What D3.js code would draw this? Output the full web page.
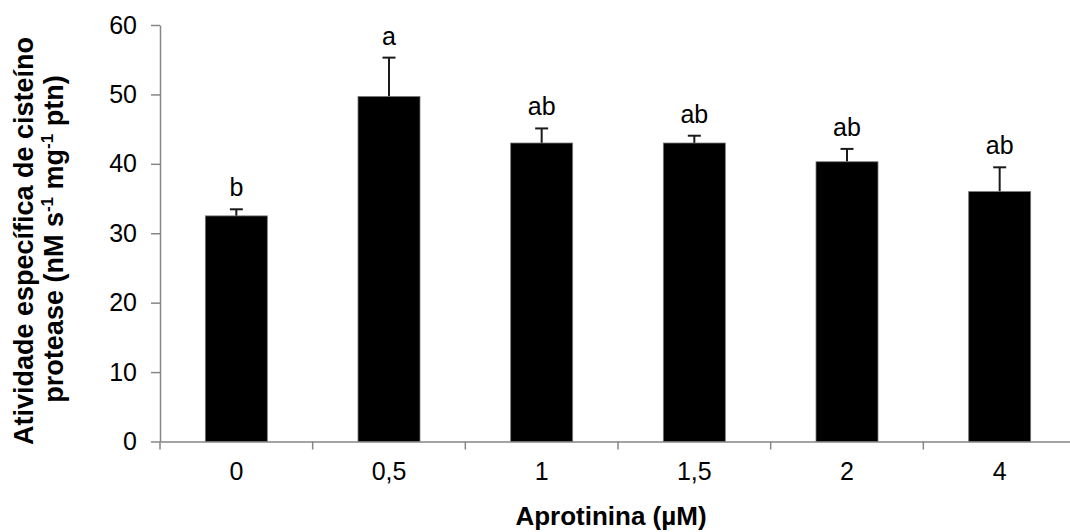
<!DOCTYPE html>
<html>
<head>
<meta charset="utf-8">
<script src="https://cdn.jsdelivr.net/npm/d3@7"></script>
<style>
  html, body { margin: 0; padding: 0; background: #fff; }
  svg { display: block; font-family: 'Liberation Sans', Arial, sans-serif; }
</style>
</head>
<body>
<div id="chart"></div>
<script>
const categories = ['0', '0,5', '1', '1,5', '2', '4']
const means = [32.5, 49.7, 43.0, 43.0, 40.3, 36.0]
const errors = [0.95, 5.6, 2.1, 1.05, 1.85, 3.5]
const letters = ['b', 'a', 'ab', 'ab', 'ab', 'ab']
const yTicks = [0, 10, 20, 30, 40, 50, 60]

const width = 1070
const height = 532
const axisGray = '#868686'

const svg = d3.select('#chart').append('svg')
  .attr('width', width)
  .attr('height', height)

const data = categories.map((c, i) => ({ cat: c, mean: means[i], err: errors[i], letter: letters[i] }))

const x = d3.scaleBand()
  .domain(categories)
  .range([160, 1076])
  .paddingInner(0.594)
  .paddingOuter(0.297)

const y = d3.scaleLinear()
  .domain([0, 60])
  .range([441.5, 25])

// y axis
const yAxis = svg.append('g')
  .attr('transform', 'translate(160,0)')
  .call(d3.axisLeft(y).tickValues(yTicks).tickSize(9).tickPadding(14).tickSizeOuter(0))
yAxis.select('.domain').attr('stroke', axisGray).attr('stroke-width', 1.5)
yAxis.selectAll('.tick line').attr('stroke', axisGray).attr('stroke-width', 1.5)
yAxis.selectAll('.tick text')
  .attr('fill', '#000')
  .style('font-size', '25px')
  .style('font-family', "'Liberation Sans', Arial, sans-serif")

// x axis: labels at band centres, ticks at band boundaries
const xAxis = svg.append('g')
  .attr('transform', `translate(0,${y(0)})`)
  .call(d3.axisBottom(x).tickSize(0).tickPadding(21).tickSizeOuter(0))
xAxis.select('.domain').attr('stroke', axisGray).attr('stroke-width', 1.5)
xAxis.selectAll('.tick text')
  .attr('fill', '#000')
  .style('font-size', '25px')
  .style('font-family', "'Liberation Sans', Arial, sans-serif")

const bounds = d3.range(categories.length + 1).map(i => 160 + i * x.step())
xAxis.selectAll('.bound')
  .data(bounds)
  .join('line')
  .attr('class', 'bound')
  .attr('x1', d => d)
  .attr('x2', d => d)
  .attr('y1', 0)
  .attr('y2', 8)
  .attr('stroke', axisGray)
  .attr('stroke-width', 1.5)

// error bars (upper only)
const capW = 13
const eb = svg.append('g')
eb.selectAll('.err')
  .data(data)
  .join('line')
  .attr('class', 'err')
  .attr('x1', d => x(d.cat) + x.bandwidth() / 2)
  .attr('x2', d => x(d.cat) + x.bandwidth() / 2)
  .attr('y1', d => y(d.mean))
  .attr('y2', d => y(d.mean + d.err))
  .attr('stroke', '#1a1a1a')
  .attr('stroke-width', 2)
eb.selectAll('.cap')
  .data(data)
  .join('line')
  .attr('class', 'cap')
  .attr('x1', d => x(d.cat) + x.bandwidth() / 2 - capW / 2)
  .attr('x2', d => x(d.cat) + x.bandwidth() / 2 + capW / 2)
  .attr('y1', d => y(d.mean + d.err))
  .attr('y2', d => y(d.mean + d.err))
  .attr('stroke', '#1a1a1a')
  .attr('stroke-width', 2)

// bars
svg.append('g').selectAll('rect')
  .data(data)
  .join('rect')
  .attr('x', d => x(d.cat))
  .attr('y', d => y(d.mean))
  .attr('width', x.bandwidth())
  .attr('height', d => y(0) - y(d.mean))
  .attr('fill', '#000')
  .attr('stroke', '#777')
  .attr('stroke-width', 0.8)

// significance letters
svg.append('g').selectAll('text')
  .data(data)
  .join('text')
  .attr('x', d => x(d.cat) + x.bandwidth() / 2)
  .attr('y', d => y(d.mean + d.err) - 13)
  .attr('text-anchor', 'middle')
  .style('font-size', '25px')
  .text(d => d.letter)

// axis titles
svg.append('text')
  .attr('x', 611)
  .attr('y', 525)
  .attr('text-anchor', 'middle')
  .style('font-size', '26px')
  .style('font-weight', 'bold')
  .text('Aprotinina (µM)')

svg.append('text')
  .attr('transform', 'translate(33,241) rotate(-90)')
  .attr('text-anchor', 'middle')
  .style('font-size', '27px')
  .style('font-weight', 'bold')
  .text('Atividade específica de cisteíno')

const t2 = svg.append('text')
  .attr('transform', 'translate(63,239) rotate(-90)')
  .attr('text-anchor', 'middle')
  .style('font-size', '27px')
  .style('font-weight', 'bold')
t2.append('tspan').text('protease (nM s')
t2.append('tspan').attr('dy', -10).style('font-size', '17px').text('-1')
t2.append('tspan').attr('dy', 10).text(' mg')
t2.append('tspan').attr('dy', -10).style('font-size', '17px').text('-1')
t2.append('tspan').attr('dy', 10).text(' ptn)')
</script>
</body>
</html>
